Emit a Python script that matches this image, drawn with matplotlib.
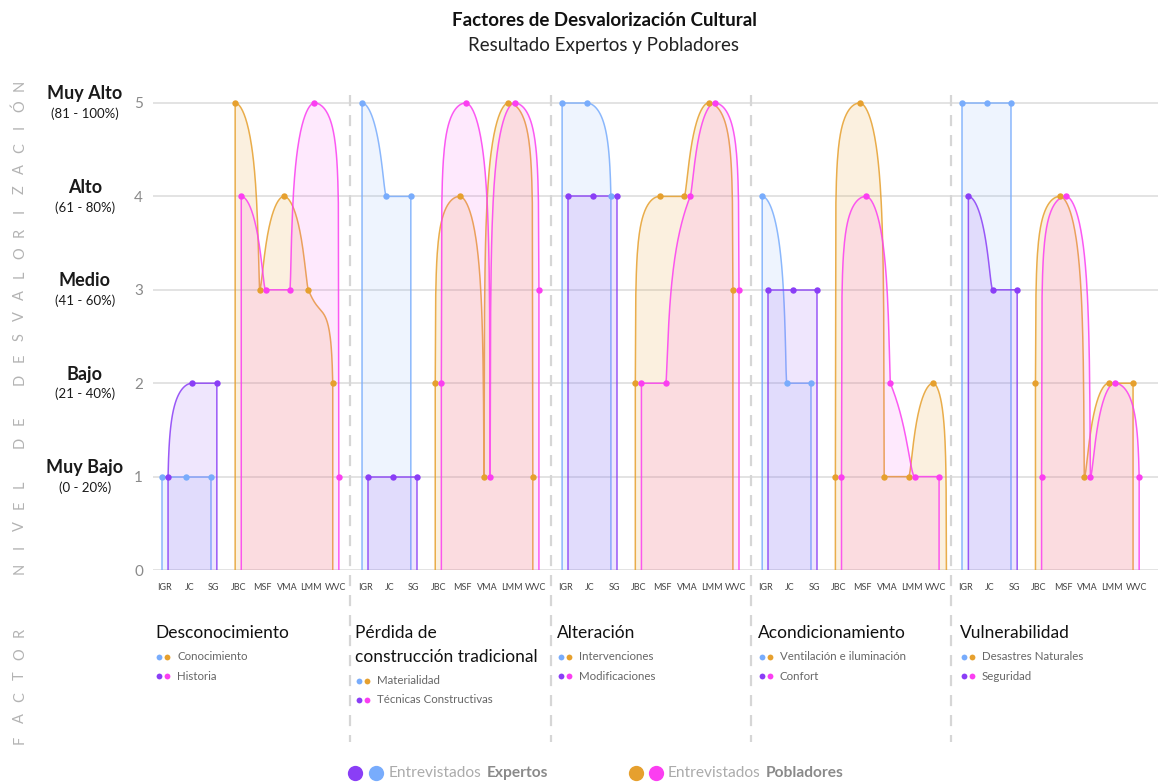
import math
import numpy as np
import matplotlib
matplotlib.use("Agg")
import matplotlib.pyplot as plt
from matplotlib.lines import Line2D

plt.rcParams['font.family'] = ['Lato', 'DejaVu Sans']

# ---------------- data ----------------
factors = ["Desconocimiento", "Pérdida de\nconstrucción tradicional", "Alteración",
           "Acondicionamiento", "Vulnerabilidad"]
sub_a = ["Conocimiento", "Materialidad", "Intervenciones", "Ventilación e iluminación",
         "Desastres Naturales"]
sub_b = ["Historia", "Técnicas Constructivas", "Modificaciones", "Confort", "Seguridad"]
expertos = ["IGR", "JC", "SG"]
pobladores = ["JBC", "MSF", "VMA", "LMM", "WVC"]

# Expertos (blue = sub_a, purple = sub_b)
exp_a = [[1, 1, 1], [5, 4, 4], [5, 5, 4], [4, 2, 2], [5, 5, 5]]
exp_b = [[1, 2, 2], [1, 1, 1], [4, 4, 4], [3, 3, 3], [4, 3, 3]]
# Pobladores (orange = sub_a, magenta = sub_b)
pob_a = [[5, 3, 4, 3, 2], [2, 4, 1, 5, 1], [2, 4, 4, 5, 3], [1, 5, 1, 1, 2], [2, 4, 1, 2, 2]]
pob_b = [[4, 3, 3, 5, 1], [2, 5, 1, 5, 3], [2, 2, 4, 5, 3], [1, 4, 2, 1, 1], [1, 4, 1, 2, 1]]

levels = ["Muy Bajo", "Bajo", "Medio", "Alto", "Muy Alto"]
level_ranges = ["(0 - 20%)", "(21 - 40%)", "(41 - 60%)", "(61 - 80%)", "(81 - 100%)"]

# ---------------- style ----------------
C_BLUE = "#78acfc"
C_PURPLE = "#8a3ef6"
C_ORANGE = "#e6a02e"
C_MAGENTA = "#fb3ef1"
GRID = "#e1e1e1"

W, H = 1158, 782
fig = plt.figure(figsize=(W / 100, H / 100), dpi=100)
fig.patch.set_facecolor("white")

X0_PX, SLOT_PX = 165.0, 24.4
PANEL_STEP = 8.2
XMIN, XMAX = -0.5, (W - X0_PX) / SLOT_PX
Y0_PX, UNIT_PX = 570.0, 93.4
YMAX = 5.1
ax = fig.add_axes([(X0_PX + XMIN * SLOT_PX) / W, (H - Y0_PX) / H,
                   (XMAX - XMIN) * SLOT_PX / W, YMAX * UNIT_PX / H])
ax.set_xlim(XMIN, XMAX)
ax.set_ylim(0, YMAX)
for s in ax.spines.values():
    s.set_visible(False)
ax.set_yticks(range(6))
ax.set_yticklabels([str(v) for v in range(6)])
ax.tick_params(axis='y', length=0, pad=7, labelsize=11, labelcolor="#8a8a8a")
for v in range(6):
    ax.axhline(v, color=GRID, lw=1.3, zorder=0)

OFF = 0.125
K = 3.0


def _slope(d, h, hother):
    if h != 0:
        return d / h
    if d == 0:
        return float('nan')
    return math.copysign(math.inf, d if hother >= 0 else -d)


def _slope3(x0, x1, x2, u0, u1, u2):
    h0, h1 = x1 - x0, x2 - x1
    s0 = _slope(u1 - u0, h0, h1)
    s1 = _slope(u2 - u1, h1, h0)
    if math.isnan(s0) or math.isnan(s1):
        return 0.0
    a = s0 * h1 if h1 != 0 else 0.0
    b = s1 * h0 if h0 != 0 else 0.0
    p = (a + b) / (h0 + h1)
    if math.isnan(p):
        return 0.0
    sg = np.sign(s0) + np.sign(s1)
    r = sg * min(abs(s0), abs(s1), 0.5 * abs(p))
    return 0.0 if (math.isnan(r) or r == 0) else float(r)


def monotone_curve(xs, ys, n=50):
    xs = [float(x) for x in xs]
    us = [math.expm1(K * y) for y in ys]
    N = len(xs)
    t = [0.0] * N
    for i in range(1, N - 1):
        t[i] = _slope3(xs[i - 1], xs[i], xs[i + 1], us[i - 1], us[i], us[i + 1])
    h = xs[1] - xs[0]
    t[0] = (3 * (us[1] - us[0]) / h - t[1]) / 2 if h else t[1]
    h = xs[-1] - xs[-2]
    t[-1] = (3 * (us[-1] - us[-2]) / h - t[-2]) / 2 if h else t[-2]
    cx, cy = [xs[0]], [ys[0]]
    tt = np.linspace(0, 1, n)[1:]
    for i in range(N - 1):
        h = xs[i + 1] - xs[i]
        if h == 0:
            cx.append(xs[i + 1]); cy.append(ys[i + 1])
            continue
        h00 = 2 * tt**3 - 3 * tt**2 + 1
        h10 = tt**3 - 2 * tt**2 + tt
        h01 = -2 * tt**3 + 3 * tt**2
        h11 = tt**3 - tt**2
        u = h00 * us[i] + h10 * h * t[i] + h01 * us[i + 1] + h11 * h * t[i + 1]
        y = np.log1p(np.maximum(u, 0)) / K
        cx.extend(list(xs[i] + tt * h)); cy.extend(list(y))
    return np.array(cx), np.array(cy)


# closing of the orange area in "Acondicionamiento" reaches the baseline past WVC
tail = {(3, "pob_a"): 0.55}


def draw_series(panel, key, slots, vals, color, fill_alpha, z):
    xs = [panel * PANEL_STEP + s for s in slots]
    ext = tail.get((panel, key), 0.0)
    px = [xs[0]] + xs + [xs[-1] + ext]
    py = [0] + list(vals) + [0]
    cx, cy = monotone_curve(px, py)
    ax.fill(cx, cy, color=color, alpha=fill_alpha, lw=0, zorder=z)
    ax.plot(cx, cy, color=color, lw=1.1, alpha=0.85, zorder=z + 1,
            solid_joinstyle='round')
    ax.plot(xs, vals, 'o', color=color, ms=4.6, mew=0, zorder=z + 5)


tick_pos, tick_lab = [], []
for p in range(5):
    base = p * PANEL_STEP
    names = expertos + pobladores
    for j, nm in enumerate(names):
        tick_pos.append(base + j)
        tick_lab.append(nm)
    e_slots = np.arange(3)
    p_slots = np.arange(3, 8)
    draw_series(p, "exp_a", e_slots - OFF, exp_a[p], C_BLUE, 0.12, 2)
    draw_series(p, "exp_b", e_slots + OFF, exp_b[p], C_PURPLE, 0.13, 3)
    draw_series(p, "pob_a", p_slots - OFF, pob_a[p], C_ORANGE, 0.15, 2)
    draw_series(p, "pob_b", p_slots + OFF, pob_b[p], C_MAGENTA, 0.11, 3)

ax.set_xticks(tick_pos)
ax.set_xticklabels(tick_lab)
ax.tick_params(axis='x', length=0, pad=9, labelsize=6.5, labelcolor="#444444")

# ---------------- overlay (pixel coords) ----------------
ov = fig.add_axes([0, 0, 1, 1], zorder=10)
ov.set_xlim(0, W)
ov.set_ylim(H, 0)
ov.axis('off')
ov.patch.set_alpha(0)

# dashed panel separators
for p in range(1, 5):
    xpx = X0_PX + SLOT_PX * (p * PANEL_STEP - 0.6)
    ov.add_line(Line2D([xpx, xpx], [95, 742], color="#d6d6d6", lw=1.6,
                       ls=(0, (5, 4)), zorder=1))

# titles
ov.text(604, 20, "Factores de Desvalorización Cultural", ha='center', va='center',
        fontsize=13.5, fontweight='bold', color="#111111")
ov.text(604, 45, "Resultado Expertos y Pobladores", ha='center', va='center',
        fontsize=13.5, color="#222222")

# vertical spaced axis titles
label_v = "NIVEL DE DESVALORIZACIÓN"
for i, ch in enumerate(label_v):
    if ch != " ":
        ov.text(20, 568 - 21 * i, ch, rotation=90, ha='center', va='center',
                fontsize=10.5, color="#b3b3b3")
label_f = "FACTOR"
for i, ch in enumerate(label_f):
    ov.text(20, 740 - 21.5 * i, ch, rotation=90, ha='center', va='center',
            fontsize=10.5, color="#b3b3b3")

# level labels
for v in range(1, 6):
    ypx = Y0_PX - UNIT_PX * v
    ov.text(85, ypx - 9, levels[v - 1], ha='center', va='center', fontsize=13,
            fontweight='bold', color="#1a1a1a")
    ov.text(85, ypx + 11, level_ranges[v - 1], ha='center', va='center', fontsize=9.5,
            color="#1a1a1a")

# panel legends
title_x = [155, 355, 557, 758, 960]
for p in range(5):
    tx = title_x[p]
    lines = factors[p].split("\n")
    for k, ln in enumerate(lines):
        ov.text(tx, 633 + 23.5 * k, ln, ha='left', va='center', fontsize=12.5,
                color="#111111")
    y1 = 657 + 23.5 * (len(lines) - 1)
    for k, (lab, ca, cb) in enumerate([(sub_a[p], C_BLUE, C_ORANGE),
                                       (sub_b[p], C_PURPLE, C_MAGENTA)]):
        yy = y1 + 19 * k
        ov.plot([tx + 4], [yy], 'o', color=ca, ms=4.2, mew=0)
        ov.plot([tx + 12], [yy], 'o', color=cb, ms=4.2, mew=0)
        ov.text(tx + 22, yy, lab, ha='left', va='center', fontsize=8.3, color="#666666")

# bottom legend
def bottom_entry(x_dot1, x_dot2, c1, c2, x_text, word):
    ov.plot([x_dot1], [773], 'o', color=c1, ms=11, mew=0)
    ov.plot([x_dot2], [773], 'o', color=c2, ms=11, mew=0)
    t1 = ov.text(x_text, 773, "Entrevistados", ha='left', va='center', fontsize=11.2,
                 color="#ababab")
    ov.annotate(word, xy=(1, 0.5), xycoords=t1, xytext=(3.5, 0),
                textcoords='offset points', ha='left', va='center', fontsize=11.2,
                color="#8a8a8a", fontweight='bold')


bottom_entry(355, 376, C_PURPLE, C_BLUE, 389, "Expertos")
bottom_entry(636, 656, C_ORANGE, C_MAGENTA, 668, "Pobladores")

fig.savefig("out.png", dpi=100, facecolor="white")
